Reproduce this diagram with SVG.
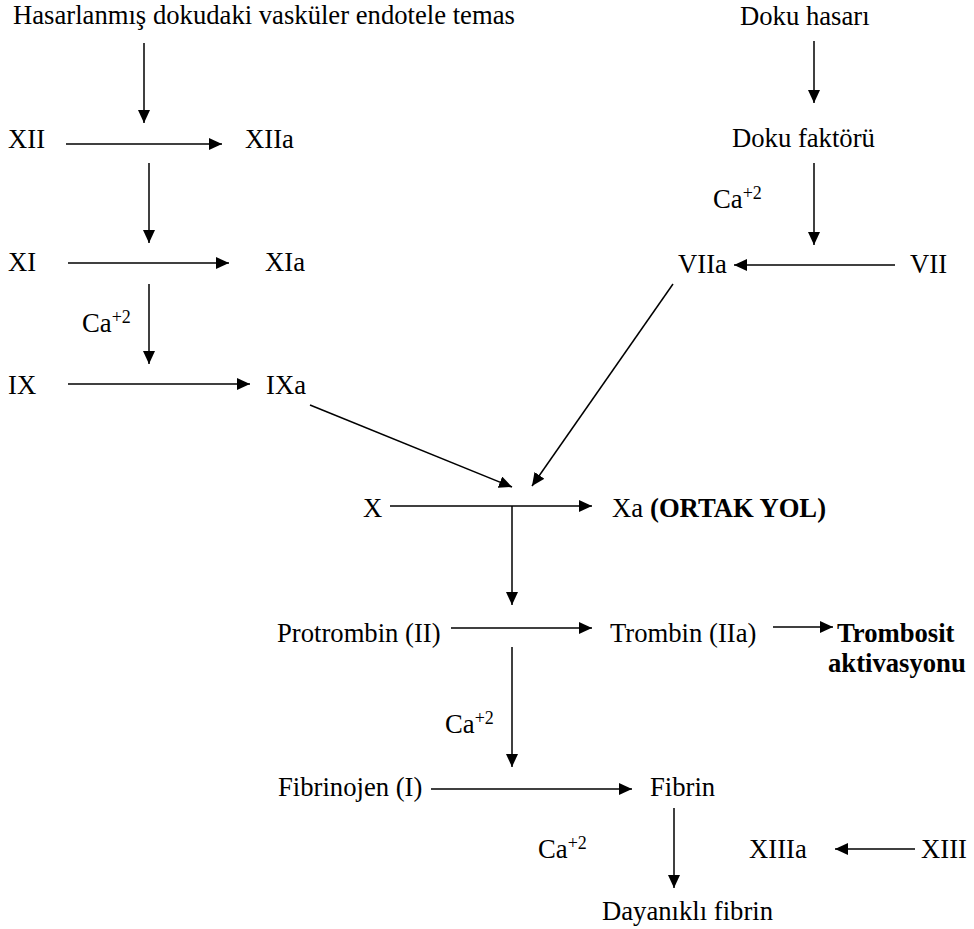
<svg xmlns="http://www.w3.org/2000/svg" width="974" height="929" viewBox="0 0 974 929">
  <style>
    text { font-family: "Liberation Serif", "Times New Roman", serif; font-size: 26.67px; fill: #000; }
    .b { font-weight: bold; }
    .sup { font-size: 18px; }
    .arrow { stroke: #000; stroke-width: 1.5; fill: none; marker-end: url(#head); }
  </style>
  <defs>
    <marker id="head" markerUnits="userSpaceOnUse" markerWidth="14" markerHeight="12" refX="13" refY="6" orient="auto">
      <path d="M0,0 L13,6 L0,12 z" fill="#000"/>
    </marker>
  </defs>
  <rect width="974" height="929" fill="#fff"/>

  <!-- connectors -->
  <g id="connectors">
    <line class="arrow" x1="144" y1="43" x2="144" y2="123"/>
    <line class="arrow" x1="66" y1="144" x2="222" y2="144"/>
    <line class="arrow" x1="149" y1="163" x2="149" y2="243"/>
    <line class="arrow" x1="68" y1="263" x2="229" y2="263"/>
    <line class="arrow" x1="149" y1="284" x2="149" y2="364"/>
    <line class="arrow" x1="68" y1="384" x2="250" y2="384"/>
    <line class="arrow" x1="814" y1="41" x2="814" y2="103"/>
    <line class="arrow" x1="814" y1="163" x2="814" y2="245"/>
    <line class="arrow" x1="895" y1="265" x2="734" y2="265"/>
    <line class="arrow" x1="310" y1="405" x2="512" y2="487"/>
    <line class="arrow" x1="673" y1="284" x2="532" y2="486"/>
    <line class="arrow" x1="390" y1="506" x2="592" y2="506"/>
    <line class="arrow" x1="512" y1="506" x2="512" y2="605"/>
    <line class="arrow" x1="451" y1="628" x2="592" y2="628"/>
    <line class="arrow" x1="773" y1="627" x2="833" y2="627"/>
    <line class="arrow" x1="512" y1="647" x2="512" y2="767"/>
    <line class="arrow" x1="431" y1="789" x2="632" y2="789"/>
    <line class="arrow" x1="674" y1="808" x2="674" y2="888"/>
    <line class="arrow" x1="915" y1="849" x2="835" y2="849"/>
  </g>

  <!-- intrinsic pathway -->
  <g id="endotel"><text x="13" y="24">Hasarlanmış dokudaki vasküler endotele temas</text></g>
  <g id="f12"><text x="8" y="148">XII</text></g>
  <g id="f12a"><text x="245" y="148">XIIa</text></g>
  <g id="f11"><text x="8" y="271">XI</text></g>
  <g id="f11a"><text x="265" y="271">XIa</text></g>
  <g id="ca1"><text x="82" y="332">Ca<tspan class="sup" dy="-9">+2</tspan></text></g>
  <g id="f9"><text x="8" y="394">IX</text></g>
  <g id="f9a"><text x="266" y="394">IXa</text></g>

  <!-- extrinsic pathway -->
  <g id="hasar"><text x="740" y="25">Doku hasarı</text></g>
  <g id="tf"><text x="732" y="147">Doku faktörü</text></g>
  <g id="ca2"><text x="713" y="208">Ca<tspan class="sup" dy="-9">+2</tspan></text></g>
  <g id="f7a"><text x="678" y="273">VIIa</text></g>
  <g id="f7"><text x="910" y="273">VII</text></g>

  <!-- common pathway -->
  <g id="f10"><text x="363" y="517">X</text></g>
  <g id="f10a"><text x="612" y="517">Xa</text><text class="b" x="650" y="517">(ORTAK YOL)</text></g>
  <g id="f2"><text x="277" y="642">Protrombin (II)</text></g>
  <g id="f2a"><text x="610" y="642">Trombin (IIa)</text></g>
  <g id="trombosit"><text class="b" x="837" y="642">Trombosit</text><text class="b" x="828" y="672">aktivasyonu</text></g>
  <g id="ca3"><text x="445" y="733">Ca<tspan class="sup" dy="-9">+2</tspan></text></g>
  <g id="f1"><text x="278" y="796">Fibrinojen (I)</text></g>
  <g id="fibrin"><text x="650" y="796">Fibrin</text></g>
  <g id="ca4"><text x="538" y="858">Ca<tspan class="sup" dy="-9">+2</tspan></text></g>
  <g id="f13a"><text x="749" y="858">XIIIa</text></g>
  <g id="f13"><text x="921" y="858">XIII</text></g>
  <g id="dayanikli"><text x="602" y="920">Dayanıklı fibrin</text></g>
</svg>
